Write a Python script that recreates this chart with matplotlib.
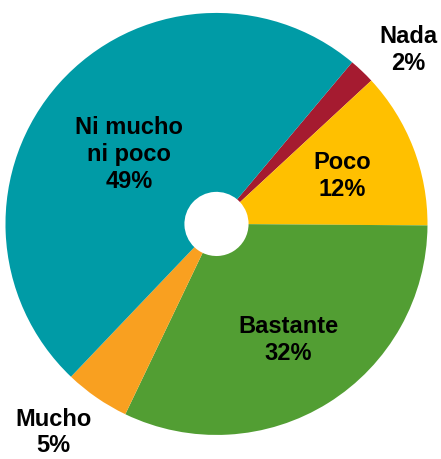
import numpy as np
import matplotlib.pyplot as plt

labels = ['Nada', 'Poco', 'Bastante', 'Mucho', 'Ni mucho\nni poco']
values = [2, 12, 32, 5, 49]
colors = ['#A51B30', '#FFC000', '#529E33', '#F9A020', '#009BA6']

# label distance (fraction of radius) and small angle nudge in degrees
label_dist = [1.23, 0.64, 0.645, 1.25, 0.53]
label_nudge = [-4, 0, 0, -3.5, 3]

plt.rcParams['font.family'] = ['Liberation Sans', 'DejaVu Sans']

fig = plt.figure(figsize=(4.41, 4.60), dpi=100)
ax = fig.add_axes([0, 0, 1, 1])

wedges, _ = ax.pie(values, colors=colors, startangle=50, counterclock=False,
                   radius=1, wedgeprops=dict(width=0.848, linewidth=0))

for w, lab, v, d, n in zip(wedges, labels, values, label_dist, label_nudge):
    ang = np.deg2rad((w.theta1 + w.theta2) / 2 + n)
    ax.text(d * np.cos(ang), d * np.sin(ang), '%s\n%d%%' % (lab, v),
            ha='center', va='center', fontsize=17, fontweight='bold',
            color='black', linespacing=1.22)

ax.set_xlim(-1.026, 1.064)
ax.set_ylim(-1.114, 1.066)
ax.set_aspect('equal')
ax.axis('off')

plt.savefig('out.png', dpi=100)
